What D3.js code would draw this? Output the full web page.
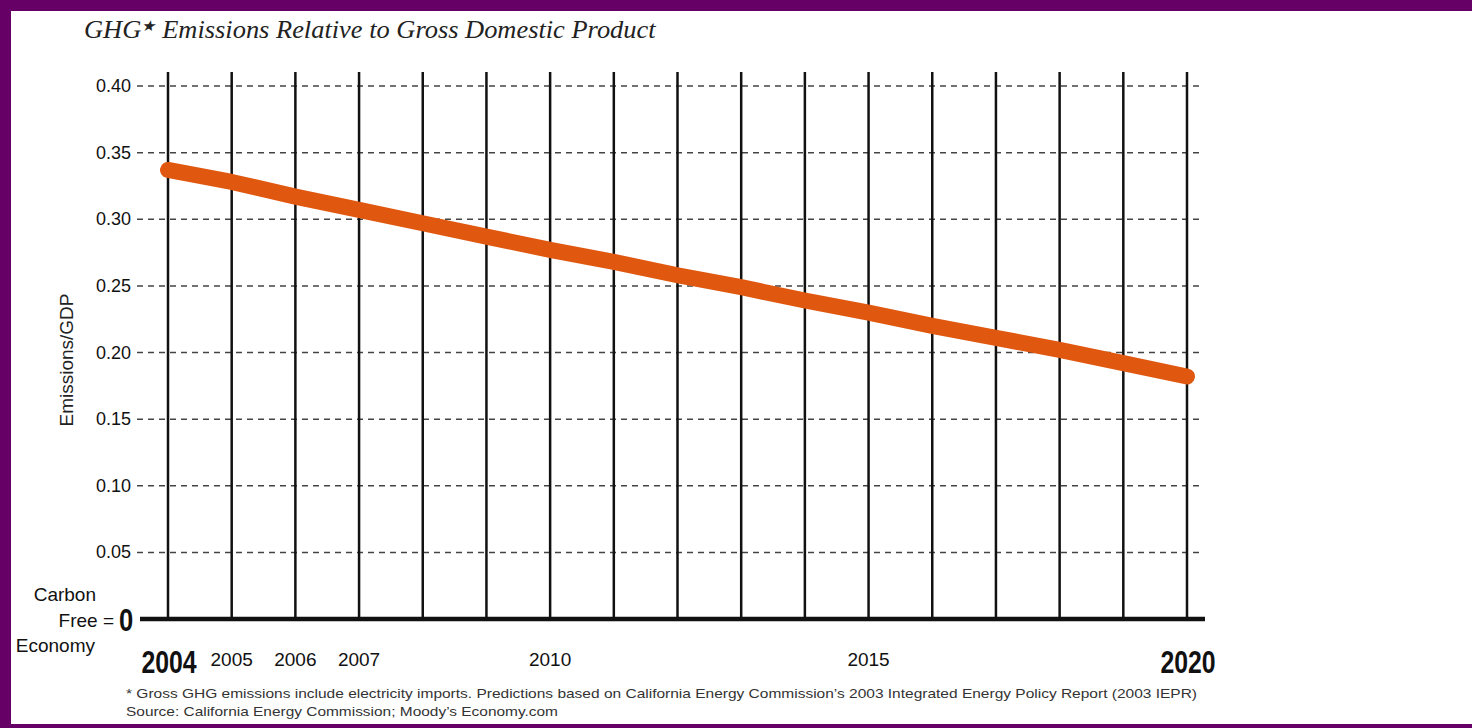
<!DOCTYPE html>
<html><head><meta charset="utf-8">
<script src="https://cdn.jsdelivr.net/npm/d3@7"></script>
<style>
body{margin:0;background:#fff;}
svg{display:block;}
</style></head>
<body>
<svg id="chart" width="1472" height="728"></svg>
<script>
const years = [2004,2005,2006,2007,2008,2009,2010,2011,2012,2013,2014,2015,2016,2017,2018,2019,2020];
const emissionsPerGDP = [0.337,0.328,0.317,0.307,0.297,0.287,0.277,0.268,0.258,0.249,0.239,0.230,0.220,0.211,0.202,0.192,0.182];
const yTicks = [0.05,0.10,0.15,0.20,0.25,0.30,0.35,0.40];
const xLabelsRegular = [2005,2006,2007,2010,2015];
const xLabelsBold = [2004,2020];
const title = "Emissions Relative to Gross Domestic Product";
const footnotes = [
  "* Gross GHG emissions include electricity imports.  Predictions based on California Energy Commission\u2019s 2003 Integrated Energy Policy Report (2003 IEPR)",
  "Source: California Energy Commission; Moody\u2019s Economy.com"
];
const footnoteWidths = [1071, 432];

const svg = d3.select("#chart");
const sans = "'Liberation Sans',Arial,sans-serif";

// frame
svg.append("rect").attr("x",0).attr("y",0).attr("width",1472).attr("height",728).attr("fill","#660066");
svg.append("rect").attr("x",11).attr("y",11).attr("width",1461).attr("height",713).attr("fill","#fff");

const x = d3.scaleLinear().domain([2004,2020]).range([168,1187]);
const y = d3.scaleLinear().domain([0,0.40]).range([619,86]);

// title
const t = svg.append("text").attr("x",84).attr("y",38)
  .attr("font-family","'Liberation Serif','DejaVu Serif',serif").attr("font-style","italic")
  .attr("font-size",25).attr("fill","#222");
t.append("tspan").text("GHG");
t.append("tspan").text("\u2605").attr("font-size",15).attr("dy",-7);
t.append("tspan").text(" " + title).attr("dy",7);
const tw = t.node().getComputedTextLength();
t.attr("transform",`translate(84,0) scale(${571/tw},1) translate(-84,0)`);

// horizontal dashed grid
svg.append("g").selectAll("line").data(yTicks).join("line")
  .attr("x1",137).attr("x2",1202)
  .attr("y1",d=>y(d)).attr("y2",d=>y(d))
  .attr("stroke","#444").attr("stroke-width",1.5).attr("stroke-dasharray","6,5");

// y tick labels
svg.append("g").selectAll("text").data(yTicks).join("text")
  .attr("x",131).attr("y",d=>y(d)+6).attr("text-anchor","end")
  .attr("font-family",sans).attr("font-size",18).attr("fill","#111")
  .text(d=>d.toFixed(2));

// vertical year lines
svg.append("g").selectAll("line").data(years).join("line")
  .attr("x1",d=>x(d)).attr("x2",d=>x(d))
  .attr("y1",72).attr("y2",y(0))
  .attr("stroke","#111").attr("stroke-width",2.5);

// baseline
svg.append("line").attr("x1",140).attr("x2",1205).attr("y1",y(0)).attr("y2",y(0))
  .attr("stroke","#111").attr("stroke-width",4.5);

// data line
const line = d3.line().x((d,i)=>x(years[i])).y(d=>y(d));
svg.append("path").datum(emissionsPerGDP).attr("d",line)
  .attr("fill","none").attr("stroke","#e0570f").attr("stroke-width",16)
  .attr("stroke-linecap","round").attr("stroke-linejoin","round");

// y axis title
svg.append("text").attr("transform","translate(73,360) rotate(-90)")
  .attr("text-anchor","middle").attr("font-family",sans).attr("font-size",19).attr("fill","#222")
  .text("Emissions/GDP");

// carbon free label
svg.append("text").attr("x",96).attr("y",601).attr("text-anchor","end")
  .attr("font-family",sans).attr("font-size",19).attr("fill","#111").text("Carbon");
svg.append("text").attr("x",114).attr("y",627).attr("text-anchor","end")
  .attr("font-family",sans).attr("font-size",19).attr("fill","#111").text("Free =");
svg.append("text").attr("transform","translate(119,631) scale(0.8,1)")
  .attr("font-family",sans).attr("font-size",32).attr("font-weight","bold").attr("fill","#111").text("0");
svg.append("text").attr("x",95).attr("y",652).attr("text-anchor","end")
  .attr("font-family",sans).attr("font-size",19).attr("fill","#111").text("Economy");

// x labels
svg.append("g").selectAll("text").data(xLabelsRegular).join("text")
  .attr("x",d=>x(d)).attr("y",666).attr("text-anchor","middle")
  .attr("font-family",sans).attr("font-size",19).attr("fill","#111").text(d=>d);
svg.append("g").selectAll("text").data(xLabelsBold).join("text")
  .attr("transform",d=>`translate(${x(d)+1},673) scale(0.8,1)`).attr("text-anchor","middle")
  .attr("font-family",sans).attr("font-size",31).attr("font-weight","bold").attr("fill","#111").text(d=>d);

// footnotes
svg.append("g").selectAll("text").data(footnotes).join("text")
  .attr("x",126).attr("y",(d,i)=>698+i*18)
  .attr("font-family",sans).attr("font-size",13.5).attr("fill","#333")
  .attr("textLength",(d,i)=>footnoteWidths[i]).attr("lengthAdjust","spacingAndGlyphs")
  .text(d=>d);
</script>
</body></html>
